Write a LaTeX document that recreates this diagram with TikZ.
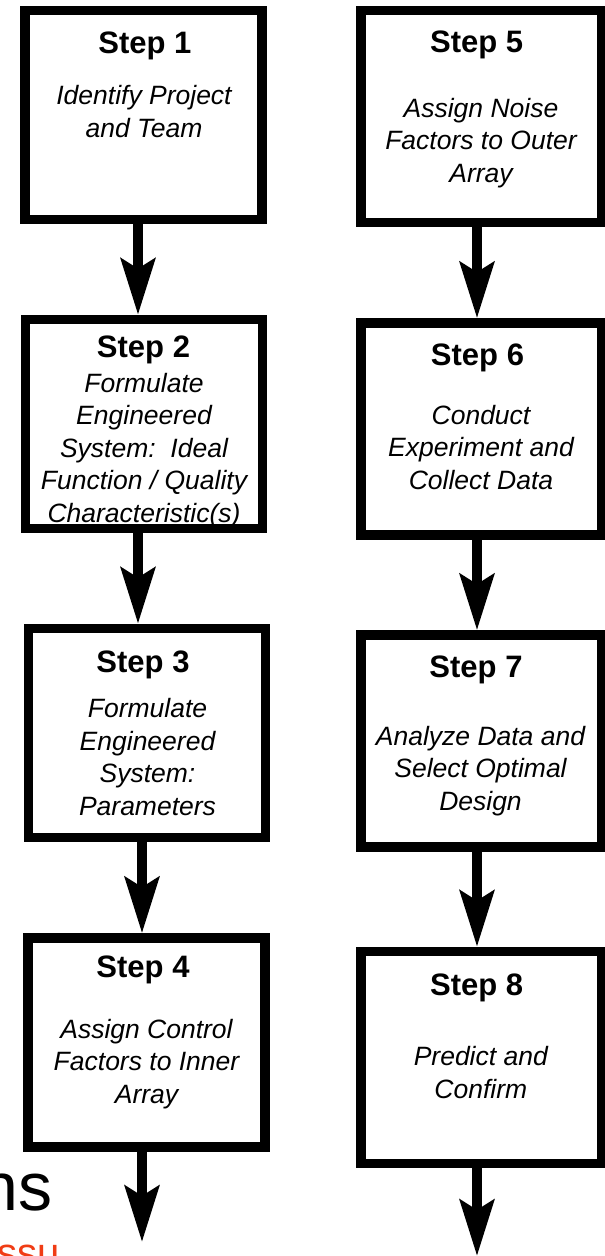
\documentclass[tikz,border=0pt]{standalone}
\usepackage{fontspec}
\setmainfont{Liberation Sans}
\usetikzlibrary{arrows.meta}
\definecolor{slideorange}{RGB}{240,60,20}
\begin{document}
\begin{tikzpicture}[x=1pt,y=-1pt,
  stepbox/.style={draw=black, line width=9.5pt, fill=white, rectangle, minimum width=237pt, minimum height=209pt, inner sep=0pt},
  rightbox/.style={stepbox, minimum width=240.5pt, minimum height=212pt},
  title/.style={font=\fontsize{31}{37}\selectfont\bfseries, anchor=base, inner sep=0pt},
  body/.style={font=\fontsize{26.5}{32.5}\selectfont\itshape, align=center, anchor=base, inner sep=0pt},
  flow/.style={line width=10pt, -{Stealth[length=56pt,width=34pt,inset=10pt]}},
  bigtext/.style={anchor=base west, inner sep=0pt},
]
\useasboundingbox (0,0) rectangle (605,1256);
\clip (0,0) rectangle (605,1256);

% background slide text fragments
\node[bigtext, font=\fontsize{68}{80}\selectfont] (ns) at (-20,1210) {ns};
\node[bigtext, font=\fontsize{40}{48}\selectfont, text=slideorange] (org) at (-3,1266) {ssu};

% boxes
\node[stepbox] (b1) at (143.5,115) {};
\node[stepbox] (b2) at (144,424) {};
\node[stepbox] (b3) at (147,733) {};
\node[stepbox] (b4) at (146.5,1042.5) {};
\node[rightbox] (b5) at (481,116.5) {};
\node[rightbox] (b6) at (481,429) {};
\node[rightbox] (b7) at (481,741) {};
\node[rightbox] (b8) at (481,1057.5) {};

% arrow columns and free ends
\coordinate (xl1) at (138,0);
\coordinate (xl2) at (142,0);
\coordinate (xr) at (477,0);
\coordinate (e4) at (142,1242);
\coordinate (e8) at (477,1256);

\draw[flow] (b1.south -| xl1) -- (b2.north -| xl1);
\draw[flow] (b2.south -| xl1) -- (b3.north -| xl1);
\draw[flow] (b3.south -| xl2) -- (b4.north -| xl2);
\draw[flow] (b4.south -| xl2) -- (e4);
\draw[flow] (b5.south -| xr) -- (b6.north -| xr);
\draw[flow] (b6.south -| xr) -- (b7.north -| xr);
\draw[flow] (b7.south -| xr) -- (b8.north -| xr);
\draw[flow] (b8.south -| xr) -- (e8);

% texts (body nodes are placed by the baseline of their last line)
\node[title] (t1) at (145,53) {Step 1};
\node[body] (d1) at (144,137) {Identify Project\\and Team};
\node[title] (t2) at (143.5,357) {Step 2};
\node[body] (d2) at (144,522) {Formulate\\Engineered\\System:\ \ Ideal\\Function / Quality\\Characteristic(s)};
\node[title] (t3) at (143,672) {Step 3};
\node[body] (d3) at (147.5,815) {Formulate\\Engineered\\System:\\Parameters};
\node[title] (t4) at (143,977) {Step 4};
\node[body] (d4) at (146.5,1103) {Assign Control\\Factors to Inner\\Array};
\node[title] (t5) at (476.7,52) {Step 5};
\node[body] (d5) at (481,182) {Assign Noise\\Factors to Outer\\Array};
\node[title] (t6) at (477.5,365) {Step 6};
\node[body] (d6) at (481,489) {Conduct\\Experiment and\\Collect Data};
\node[title] (t7) at (476,677) {Step 7};
\node[body] (d7) at (480.5,810) {Analyze Data and\\Select Optimal\\Design};
\node[title] (t8) at (476.7,995) {Step 8};
\node[body] (d8) at (480.8,1098) {Predict and\\Confirm};
\end{tikzpicture}
\end{document}
